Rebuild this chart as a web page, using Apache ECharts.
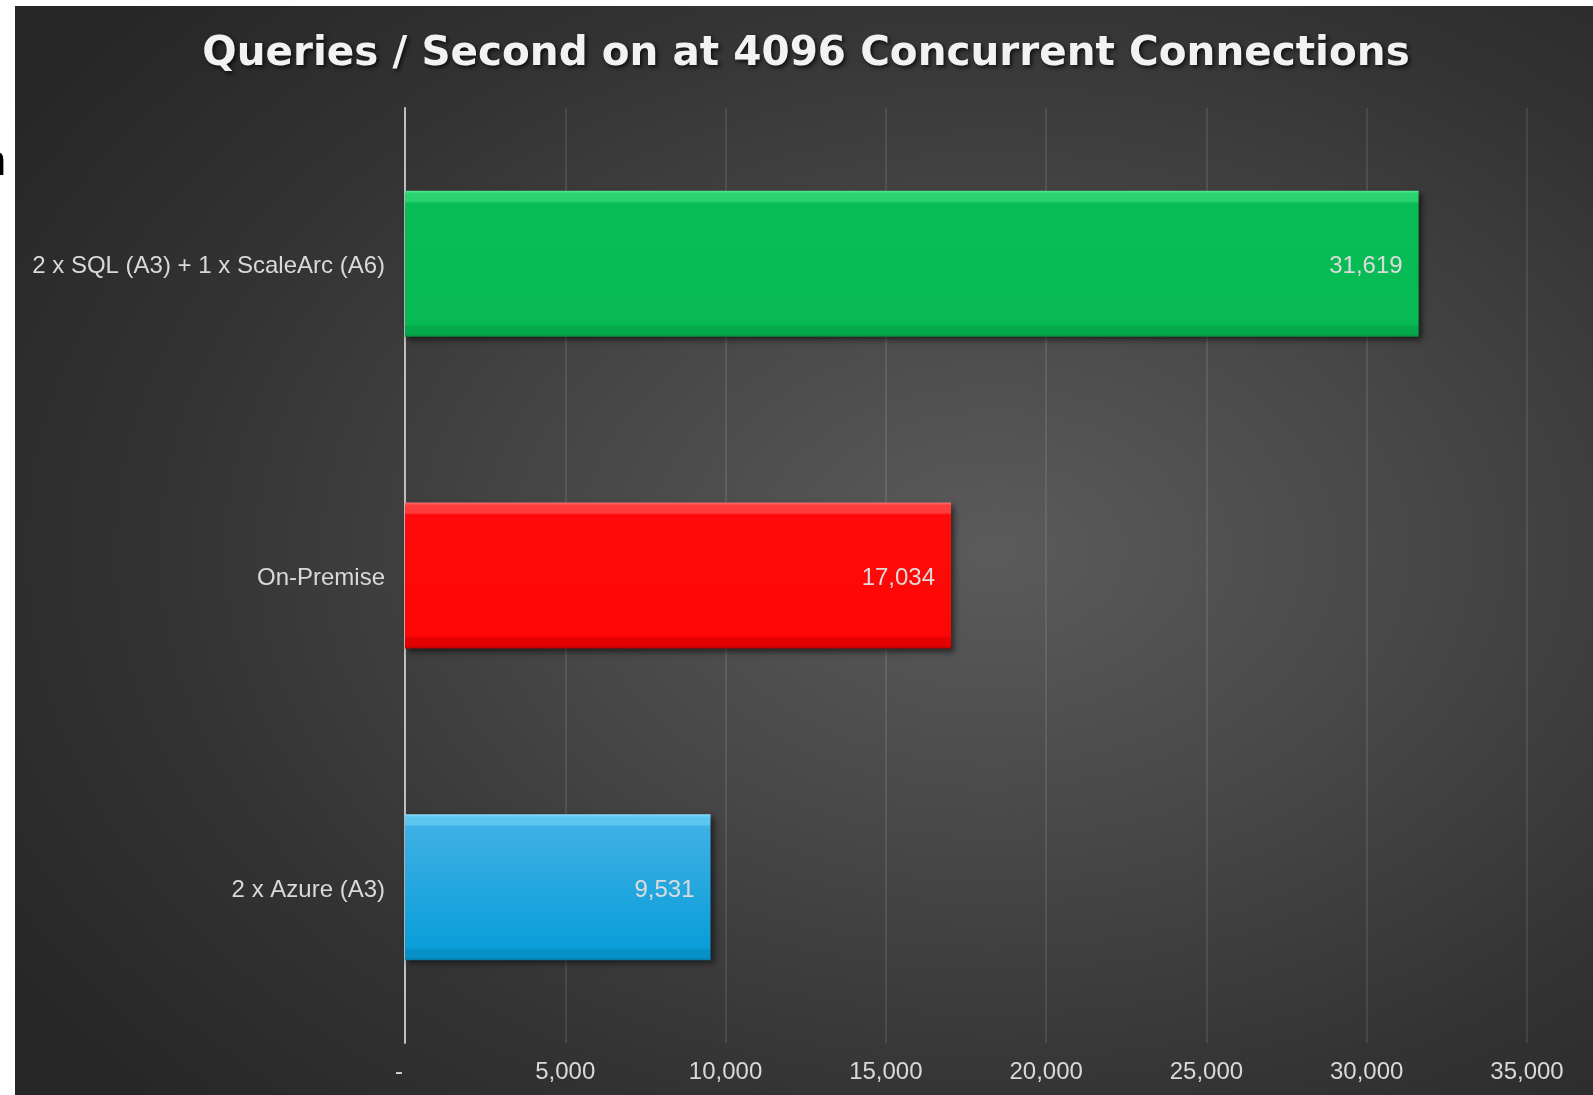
<!DOCTYPE html>
<html>
<head>
<meta charset="utf-8">
<script src="https://cdn.jsdelivr.net/npm/echarts@6/dist/echarts.min.js"></script>
<style>
  html, body { margin: 0; padding: 0; background: #ffffff; }
  #bg { position: absolute; left: 15px; top: 6px; width: 1578px; height: 1089px;
        background: radial-gradient(ellipse 75% 75% at 62% 50%, #5b5b5b 0%, #484848 35%, #333333 70%, #262626 100%); }
  #chart { position: absolute; left: 0; top: 0; width: 1593px; height: 1095px; }
</style>
</head>
<body>
<div id="bg"></div>
<div id="chart"></div>
<script>
// ---- data ----
const titleText = 'Queries / Second on at 4096 Concurrent Connections';
const categories = ['2 x Azure (A3)', 'On-Premise', '2 x SQL (A3) + 1 x ScaleArc (A6)'];
const values = [9531, 17034, 31619];
const axisMin = 0, axisMax = 35000, axisInterval = 5000;

// ---- styles ----
// [top edge, top band, main top, main bottom, bottom band, bottom edge]
const barShades = [
  ['#8fe4fb', '#5cc6ef', '#3eb0e5', '#0a9ed9', '#0890c8', '#067aa8'],   // blue
  ['#ff7070', '#ff3c3c', '#ff0a0a', '#ff0606', '#e20000', '#b40000'],   // red
  ['#52e890', '#2ad270', '#08bc56', '#07ba54', '#06a84c', '#058c3f']    // green
];
function grad(c) {
  return {
    type: 'linear', x: 0, y: 0, x2: 0, y2: 1,
    colorStops: [
      { offset: 0, color: c[0] },
      { offset: 0.02, color: c[1] },
      { offset: 0.07, color: c[1] },
      { offset: 0.085, color: c[2] },
      { offset: 0.915, color: c[3] },
      { offset: 0.93, color: c[4] },
      { offset: 0.98, color: c[4] },
      { offset: 1, color: c[5] }
    ]
  };
}
const seriesData = values.map((v, i) => ({
  value: v,
  itemStyle: {
    color: grad(barShades[i]),
    shadowColor: 'rgba(0,0,0,0.55)', shadowBlur: 6, shadowOffsetX: 3, shadowOffsetY: 3
  }
}));

const chart = echarts.init(document.getElementById('chart'), null, { renderer: 'canvas' });
chart.setOption({
  backgroundColor: 'transparent',
  animation: false,
  graphic: [{
    type: 'text', x: 806, y: 54,
    style: {
      text: titleText, align: 'center', verticalAlign: 'middle',
      font: 'bold 40.5px "DejaVu Sans"', fill: '#f2f2f2',
      textShadowColor: 'rgba(0,0,0,0.75)', textShadowBlur: 4, textShadowOffsetX: 2, textShadowOffsetY: 2
    }
  }, {
    type: 'text', x: 6, y: 163,
    style: { text: 'n', fill: '#000', font: '42px "Liberation Sans", Arial', align: 'right', verticalAlign: 'middle' }
  }],
  grid: { left: 405, right: 66, top: 108, bottom: 52, containLabel: false },
  xAxis: {
    type: 'value', min: axisMin, max: axisMax, interval: axisInterval,
    axisLine: { show: false }, axisTick: { show: false },
    splitLine: { show: true, lineStyle: { color: 'rgba(255,255,255,0.13)', width: 1.5 } },
    axisLabel: {
      margin: 17, color: '#d9d9d9', fontSize: 24, fontFamily: '"Liberation Sans", Arial',
      formatter: v => v === 0 ? '{z|-}' : v.toLocaleString('en-US'),
      rich: { z: { padding: [0, 12, 0, 0], color: '#d9d9d9', fontSize: 24, fontFamily: '"Liberation Sans", Arial' } }
    }
  },
  yAxis: {
    type: 'category', data: categories,
    axisLine: { show: true, lineStyle: { color: '#bfbfbf', width: 2 } },
    axisTick: { show: false },
    splitLine: { show: false },
    axisLabel: {
      margin: 20, color: '#d9d9d9', fontSize: 24, fontFamily: '"Liberation Sans", Arial',
      formatter: v => '{c|' + v + '}',
      rich: { c: { padding: [6, 0, 0, 0], color: '#d9d9d9', fontSize: 24, fontFamily: '"Liberation Sans", Arial' } }
    }
  },
  series: [{
    type: 'bar', data: seriesData, barWidth: 146,
    label: {
      show: true, position: 'insideRight', distance: 16, offset: [0, 3],
      color: '#dcdcdc', fontSize: 24, fontFamily: '"Liberation Sans", Arial',
      formatter: p => p.value.toLocaleString('en-US')
    }
  }]
});
</script>
</body>
</html>
